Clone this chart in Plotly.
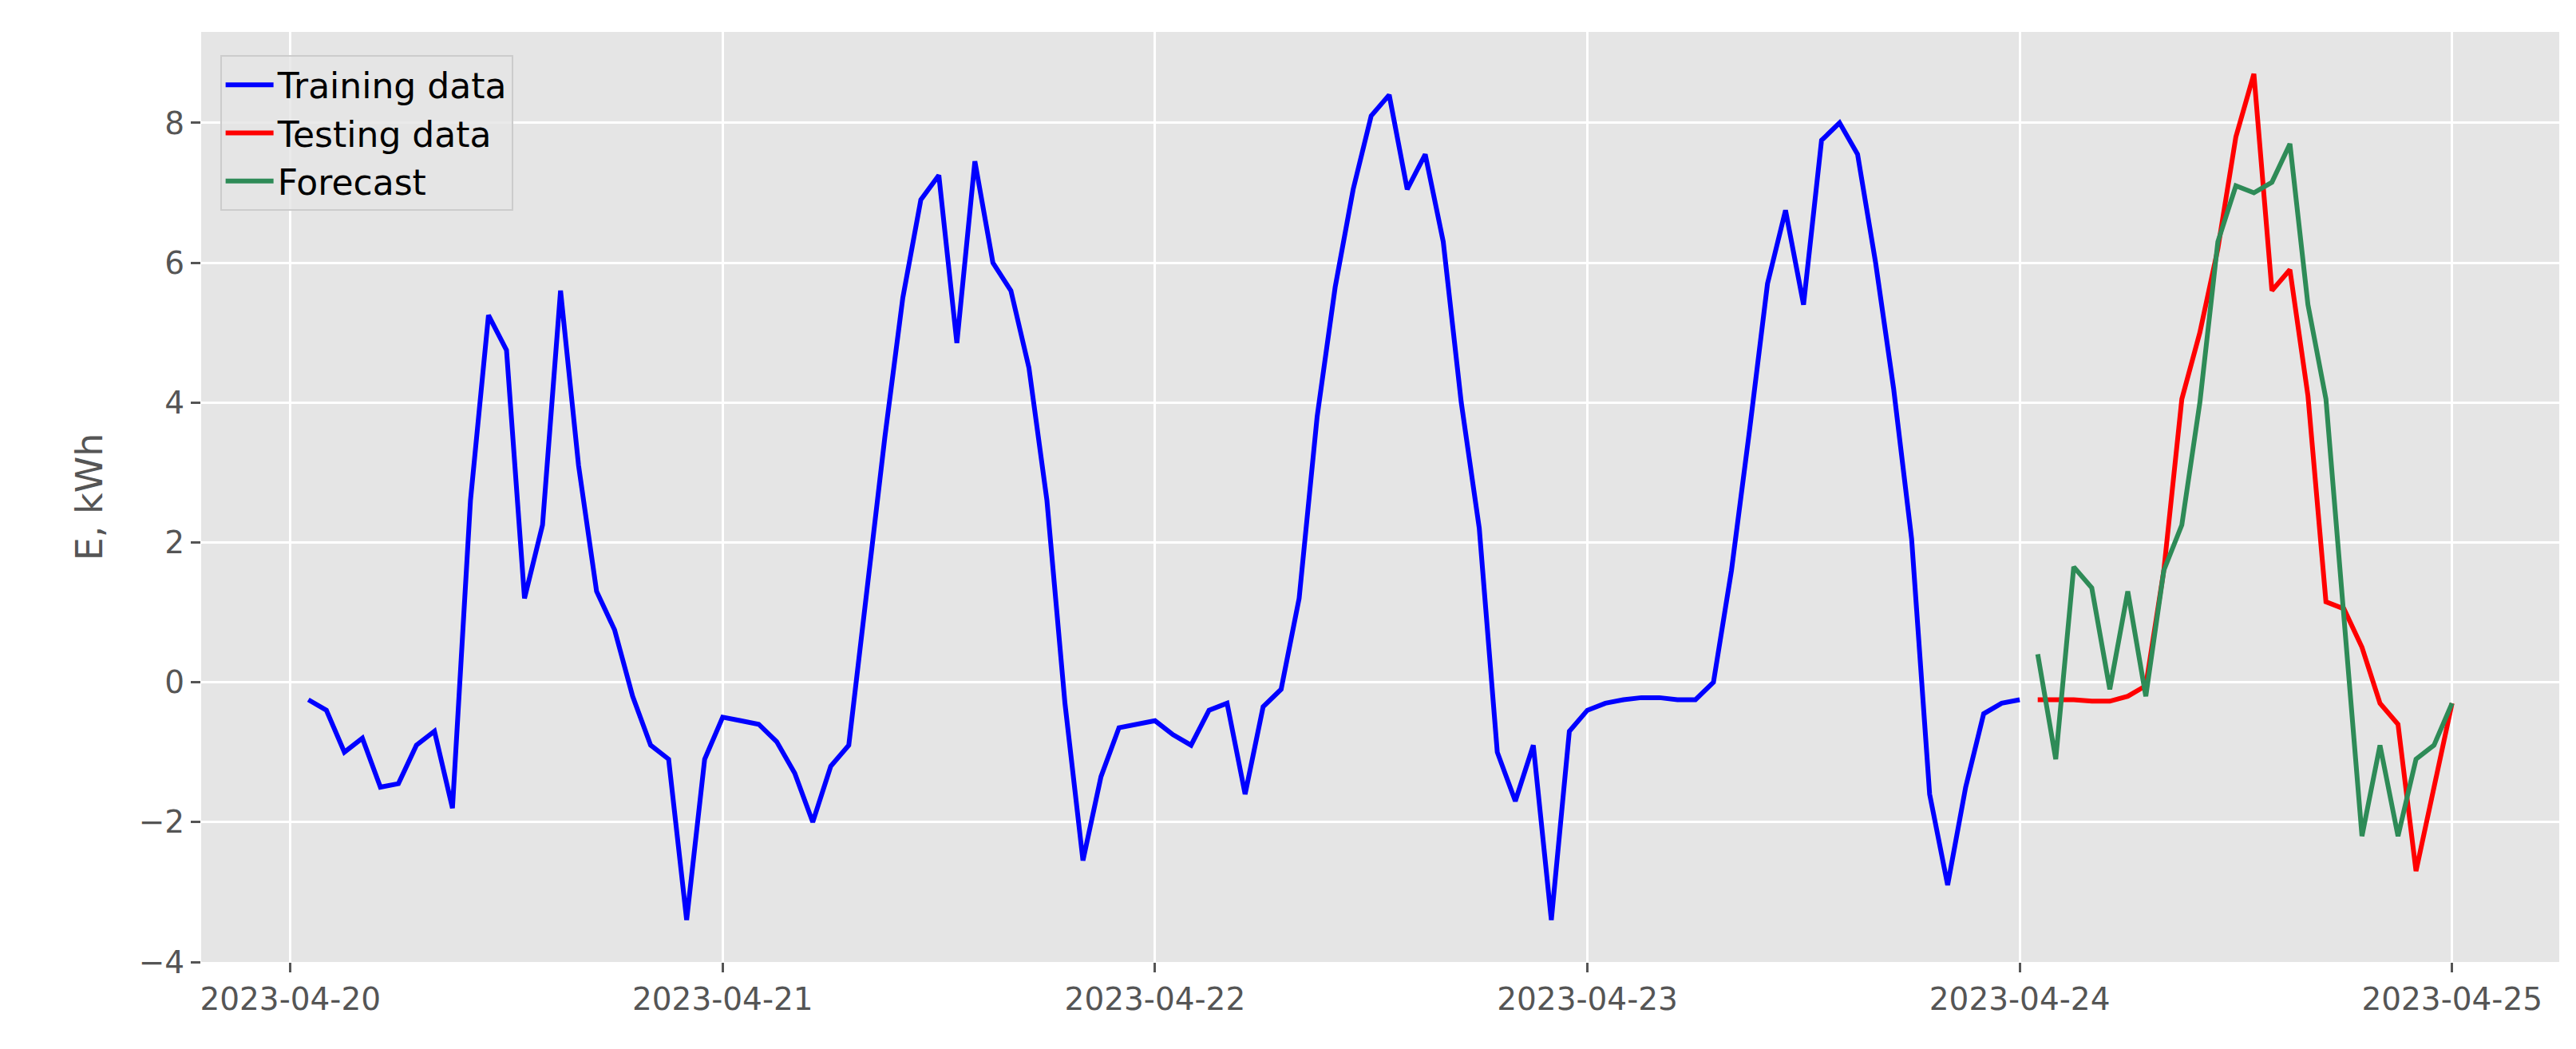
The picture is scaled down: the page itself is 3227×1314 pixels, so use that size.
import pandas as pd
import plotly.graph_objects as go

train_values = [
    -0.25, -0.4, -1.0, -0.8, -1.5, -1.45, -0.9, -0.7, -1.8, 2.6, 5.25, 4.75,
    1.2, 2.25, 5.6, 3.1, 1.3, 0.75, -0.2, -0.9, -1.1, -3.4, -1.1, -0.5,
    -0.55, -0.6, -0.85, -1.3, -2.0, -1.2, -0.9, 1.3, 3.5, 5.5, 6.9, 7.25,
    4.85, 7.45, 6.0, 5.6, 4.5, 2.6, -0.3, -2.55, -1.35, -0.65, -0.6, -0.55,
    -0.75, -0.9, -0.4, -0.3, -1.6, -0.35, -0.1, 1.2, 3.8, 5.65, 7.05, 8.1,
    8.4, 7.05, 7.55, 6.3, 4.0, 2.2, -1.0, -1.7, -0.9, -3.4, -0.7, -0.4,
    -0.3, -0.25, -0.22, -0.22, -0.25, -0.25, 0.0, 1.6, 3.6, 5.7, 6.75, 5.4,
    7.75, 8.0, 7.55, 6.0, 4.2, 2.05, -1.6, -2.9, -1.5, -0.45, -0.3, -0.25,
]
test_values = [
    -0.25, -0.25, -0.25, -0.27, -0.27, -0.2, -0.05, 1.6, 4.05, 5.0, 6.2, 7.8,
    8.7, 5.6, 5.9, 4.1, 1.15, 1.05, 0.5, -0.3, -0.6, -2.7, -1.5, -0.3,
]
forecast_values = [
    0.4, -1.1, 1.65, 1.35, -0.1, 1.3, -0.2, 1.6, 2.25, 4.0, 6.3, 7.1,
    7.0, 7.15, 7.7, 5.4, 4.05, 1.0, -2.2, -0.9, -2.2, -1.1, -0.9, -0.3,
]
train_time = pd.date_range("2023-04-20 01:00", periods=len(train_values), freq="h")
test_time = pd.date_range("2023-04-24 01:00", periods=len(test_values), freq="h")
tick_vals = pd.date_range("2023-04-20", "2023-04-25", freq="D")
tick_text = [d.strftime("%Y-%m-%d") for d in tick_vals]

fig = go.Figure()
fig.add_trace(go.Scatter(x=train_time, y=train_values, mode="lines", name="Training data",
                         line=dict(color="blue", width=6)))
fig.add_trace(go.Scatter(x=test_time, y=test_values, mode="lines", name="Testing data",
                         line=dict(color="red", width=6)))
fig.add_trace(go.Scatter(x=test_time, y=forecast_values, mode="lines", name="Forecast",
                         line=dict(color="#2E8B57", width=6)))

fig.update_layout(
    width=3227, height=1314,
    margin=dict(l=244, r=29, t=32, b=117),
    plot_bgcolor="#E5E5E5", paper_bgcolor="white",
    font=dict(family="DejaVu Sans", size=39, color="#555555"),
    legend=dict(x=0.008, y=0.975, xanchor="left", yanchor="top",
                bgcolor="rgba(229,229,229,0.8)", bordercolor="#CCCCCC", borderwidth=2,
                font=dict(size=44, color="black"), itemwidth=60, tracegroupgap=14),
    xaxis=dict(range=["2023-04-19 19:03", "2023-04-25 05:57"], tickvals=tick_vals, ticktext=tick_text,
               showgrid=True, gridcolor="white", gridwidth=3, zeroline=False,
               ticks="outside", ticklen=12, tickwidth=3, tickcolor="#555555", showline=False),
    yaxis=dict(range=[-4.0, 9.3], tickvals=[-4, -2, 0, 2, 4, 6, 8],
               ticktext=["\u22124", "\u22122", "0", "2", "4", "6", "8"],
               showgrid=True, gridcolor="white", gridwidth=3, zeroline=False,
               ticks="outside", ticklen=12, tickwidth=3, tickcolor="#555555",
               title=dict(text="E, kWh", font=dict(size=46, color="#555555"), standoff=30)),
)
fig.write_html("out.html")
